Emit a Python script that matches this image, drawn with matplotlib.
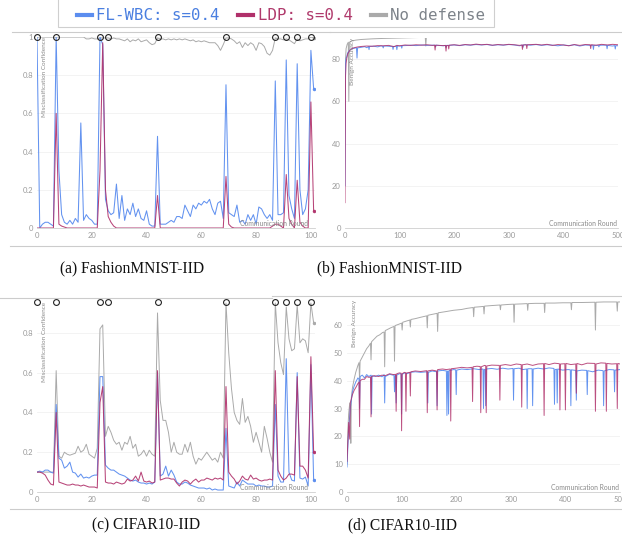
import matplotlib
matplotlib.use("Agg")
import matplotlib.pyplot as plt
from matplotlib.lines import Line2D
from matplotlib.patches import Rectangle

# ---- data ----
rounds_a = list(range(102))
attack_rounds = [0, 7, 23, 26, 44, 69, 87, 91, 95, 100]

fmnist_wbc = [1.0, 0.0, 0.02, 0.03, 0.03, 0.02, 0.01, 1.0, 0.3, 0.07,
              0.03, 0.02, 0.04, 0.02, 0.05, 0.03, 0.55, 0.04, 0.07, 0.05,
              0.04, 0.02, 0.02, 1.0, 0.96, 0.15, 0.09, 0.07, 0.08, 0.23,
              0.05, 0.17, 0.04, 0.1, 0.07, 0.13, 0.06, 0.1, 0.05, 0.04,
              0.09, 0.02, 0.01, 0.01, 0.48, 0.02, 0.02, 0.02, 0.03, 0.04,
              0.03, 0.06, 0.06, 0.05, 0.12, 0.09, 0.06, 0.12, 0.1, 0.13,
              0.12, 0.14, 0.13, 0.15, 0.1, 0.07, 0.13, 0.14, 0.05, 0.75,
              0.08, 0.07, 0.06, 0.12, 0.03, 0.04, 0.02, 0.07, 0.04, 0.07,
              0.02, 0.11, 0.1, 0.07, 0.05, 0.07, 0.04, 0.77, 0.07, 0.07,
              0.08, 0.88, 0.17, 0.1, 0.05, 0.86, 0.2, 0.07, 0.1, 0.2,
              0.93, 0.73]
fmnist_ldp = [0.0, 0.0, 0.0, 0.0, 0.0, 0.0, 0.0, 0.6, 0.02, 0.01,
              0.005, 0.0, 0.0, 0.0, 0.0, 0.0, 0.0, 0.0, 0.0, 0.0,
              0.0, 0.0, 0.0, 0.3, 0.97, 0.2, 0.06, 0.03, 0.01, 0.0,
              0.0, 0.0, 0.0, 0.0, 0.0, 0.0, 0.0, 0.0, 0.0, 0.0,
              0.0, 0.0, 0.0, 0.0, 0.17, 0.0, 0.0, 0.0, 0.0, 0.0,
              0.0, 0.0, 0.0, 0.0, 0.0, 0.0, 0.0, 0.0, 0.0, 0.0,
              0.0, 0.0, 0.0, 0.0, 0.0, 0.0, 0.0, 0.0, 0.0, 0.27,
              0.02, 0.005, 0.0, 0.0, 0.0, 0.0, 0.0, 0.0, 0.0, 0.0,
              0.0, 0.0, 0.0, 0.0, 0.0, 0.0, 0.01, 0.02, 0.02, 0.01,
              0.0, 0.28, 0.05, 0.02, 0.0, 0.25, 0.03, 0.01, 0.0, 0.0,
              0.66, 0.09]
fmnist_none = [1.0, 1.0, 1.0, 1.0, 1.0, 1.0, 1.0, 1.0, 1.0, 1.0,
               1.0, 1.0, 1.0, 1.0, 1.0, 1.0, 1.0, 1.0, 0.99, 0.99,
               0.995, 0.99, 0.99, 0.995, 0.995, 0.995, 0.995, 0.99, 0.995, 0.99,
               0.99, 0.985, 0.98, 0.99, 0.975, 0.985, 0.98, 0.99, 0.975, 0.98,
               0.985, 0.97, 0.96, 0.965, 0.995, 0.99, 0.99, 0.985, 0.99, 0.985,
               0.99, 0.985, 0.99, 0.985, 0.99, 0.985, 0.98, 0.985, 0.975, 0.98,
               0.975, 0.98, 0.975, 0.97, 0.97, 0.97, 0.955, 0.93, 0.96, 0.995,
               0.995, 0.99, 0.98, 0.965, 0.975, 0.945, 0.97, 0.955, 0.97, 0.96,
               0.93, 0.97, 0.965, 0.95, 0.915, 0.905, 0.93, 0.995, 0.99, 0.99,
               0.985, 0.99, 0.985, 0.975, 0.965, 0.99, 0.98, 0.985, 0.99, 0.99,
               1.0, 0.995]

cifar_wbc = [0.1, 0.105, 0.1, 0.11, 0.11, 0.1, 0.095, 0.44, 0.17, 0.16,
             0.12, 0.13, 0.15, 0.1, 0.095, 0.075, 0.09, 0.07, 0.075, 0.07,
             0.08, 0.085, 0.085, 0.58, 0.58, 0.135, 0.12, 0.11, 0.11, 0.1,
             0.09, 0.085, 0.08, 0.07, 0.06, 0.055, 0.06, 0.05, 0.045, 0.045,
             0.04, 0.045, 0.04, 0.05, 0.6, 0.08, 0.09, 0.13, 0.08, 0.11,
             0.085, 0.05, 0.04, 0.04, 0.05, 0.045, 0.035, 0.03, 0.025, 0.02,
             0.02, 0.02, 0.015, 0.02, 0.01, 0.015, 0.01, 0.01, 0.01, 0.32,
             0.03, 0.025, 0.02, 0.05, 0.03, 0.06, 0.05, 0.04, 0.04, 0.04,
             0.03, 0.035, 0.03, 0.03, 0.025, 0.025, 0.03, 0.44, 0.08, 0.05,
             0.05, 0.67, 0.1, 0.06, 0.055, 0.6, 0.07, 0.065, 0.075, 0.03,
             0.64, 0.06]
cifar_ldp = [0.1, 0.1, 0.095, 0.085, 0.06, 0.04, 0.035, 0.4, 0.05, 0.045,
             0.04, 0.035, 0.035, 0.04, 0.035, 0.035, 0.03, 0.035, 0.03, 0.025,
             0.025, 0.025, 0.02, 0.45, 0.53, 0.05, 0.045, 0.045, 0.04, 0.05,
             0.045, 0.04, 0.045, 0.065, 0.055, 0.06, 0.08, 0.055, 0.1, 0.055,
             0.05, 0.055, 0.045, 0.05, 0.61, 0.06, 0.065, 0.07, 0.07, 0.065,
             0.065, 0.045, 0.03, 0.05, 0.06, 0.055, 0.04, 0.055, 0.065, 0.05,
             0.06, 0.06, 0.07, 0.065, 0.06, 0.07, 0.065, 0.07, 0.06, 0.53,
             0.1, 0.08, 0.065, 0.04, 0.055, 0.08, 0.065, 0.06, 0.085, 0.065,
             0.07, 0.06, 0.055, 0.06, 0.06, 0.065, 0.06, 0.61, 0.11, 0.08,
             0.06, 0.07, 0.09, 0.09, 0.085, 0.58, 0.13, 0.13, 0.11, 0.07,
             0.68, 0.2]
cifar_none = [0.1, 0.1, 0.1, 0.1, 0.1, 0.1, 0.1, 0.61, 0.18, 0.17,
              0.2, 0.19, 0.185, 0.19, 0.195, 0.23, 0.2, 0.21, 0.24, 0.19,
              0.18, 0.17, 0.22, 0.82, 0.84, 0.28, 0.33, 0.3, 0.26, 0.24,
              0.25, 0.21, 0.25, 0.24, 0.28, 0.22, 0.24, 0.18, 0.19, 0.21,
              0.18, 0.21, 0.19, 0.18, 0.9, 0.46, 0.36, 0.36, 0.3, 0.2,
              0.25, 0.2, 0.19, 0.19, 0.24, 0.2, 0.25, 0.18, 0.14, 0.17,
              0.16, 0.18, 0.2, 0.18, 0.16, 0.17, 0.15, 0.2, 0.17, 0.95,
              0.7, 0.52, 0.4, 0.36, 0.34, 0.47, 0.35, 0.38, 0.33, 0.25,
              0.3, 0.25, 0.2, 0.33, 0.27, 0.2, 0.15, 0.95, 0.75, 0.65,
              0.59, 0.93, 0.77, 0.71, 0.72, 0.94, 0.75, 0.77, 0.76, 0.7,
              0.95, 0.85]

# benign accuracy, (round, value)
acc_fm_wbc = [(0, 20), (1, 78), (2, 80.5), (3, 81), (5, 83), (8, 84), (10, 84.5), (14, 85),
              (18, 85.2), (21, 85.4), (22, 80.5), (23, 85.3), (30, 85.6), (36, 85.9), (40, 85.4),
              (43, 86), (44, 84.5), (45, 86), (52, 86.1), (60, 85.8), (66, 86.3), (69, 86.1),
              (70, 85.3), (71, 86.2), (75, 86.2), (84, 86), (87, 86), (88, 84.6), (89, 86),
              (94, 86.1), (95, 84.5), (96, 86.2), (100, 86.2), (103, 86.3), (104, 85.2),
              (105, 86.4), (110, 86.4), (120, 86.6), (130, 86.4), (140, 86.7), (150, 86.5),
              (160, 86.6), (165, 86.6), (166, 85.8), (167, 86.6), (180, 86.3), (184, 86.5),
              (185, 85.5), (186, 86.5), (190, 86.5), (200, 86.7), (210, 86.4), (220, 86.8),
              (230, 86.6), (240, 86.9), (250, 86.7), (260, 86.9), (270, 86.5), (280, 86.8),
              (290, 86.6), (300, 86.9), (310, 86.7), (320, 86.3), (325, 86.7), (326, 85.6),
              (327, 86.7), (330, 86.8), (340, 86.6), (350, 86.9), (360, 86.5), (370, 86.8),
              (380, 86.6), (390, 86.3), (400, 86.7), (410, 86.4), (420, 86.8), (430, 86.2),
              (440, 86.7), (450, 86.5), (454, 86.6), (455, 84.6), (456, 86.5), (464, 86.5),
              (465, 85.8), (466, 86.5), (470, 86.6), (479, 86.6), (480, 84.9), (481, 86.5),
              (490, 86.2), (494, 86.4), (495, 84.8), (496, 86.4), (500, 86.3)]
acc_fm_ldp = [(0, 12), (1, 72), (2, 78), (3, 80), (5, 82.5), (8, 83.8), (10, 84.5), (14, 85.2),
              (20, 85.6), (24, 85.8), (30, 86), (40, 86.2), (50, 86.1), (60, 86.4), (70, 86.3),
              (80, 86.5), (90, 85.9), (95, 86.5), (100, 86.3), (110, 86.7), (120, 86.5),
              (130, 86.8), (140, 86.6), (150, 86.8), (160, 86.5), (164, 86.6), (165, 84.3),
              (166, 86.6), (180, 86.4), (184, 86.5), (185, 83.8), (186, 86.4), (189, 86.5),
              (190, 84.8), (191, 86.6), (200, 86.8), (210, 86.5), (220, 86.9), (230, 86.7),
              (240, 87.1), (250, 86.8), (260, 87), (270, 86.6), (280, 86.9), (290, 86.7),
              (300, 87), (310, 86.8), (320, 86.5), (324, 86.7), (325, 84.6), (326, 86.7),
              (332, 86.8), (333, 85), (334, 86.8), (350, 87), (360, 86.7), (370, 87),
              (380, 86.5), (390, 86.9), (400, 86.7), (410, 86.3), (420, 86.9), (430, 86.5),
              (440, 86.9), (449, 86.8), (450, 85), (451, 86.8), (460, 86.6), (470, 87),
              (480, 86.7), (490, 87), (500, 86.8)]
acc_fm_none = [(0, 75), (2, 85), (4, 87), (6, 88), (7, 60), (8, 88), (12, 88.6), (20, 89),
               (30, 89.3), (50, 89.6), (70, 89.8), (100, 90), (130, 90.2), (147, 90.3),
               (148, 86.2), (149, 90.5), (180, 90.5), (220, 90.6), (260, 90.7), (300, 90.7),
               (350, 90.7), (400, 90.6), (450, 90.5), (500, 90.3)]

acc_cf_wbc = [(0, 9), (2, 18), (4, 25), (6, 30), (8, 33), (10, 36), (13, 38), (16, 39.5), (20, 41),
              (22, 40.5), (23, 30), (24, 41.5), (28, 42), (32, 41), (36, 42.2), (40, 41.5), (44, 42),
              (45, 28), (46, 41.8), (52, 41.5), (58, 42), (64, 41.4), (68, 42.2), (69, 32), (70, 41.5),
              (78, 42.3), (84, 42), (86, 42.1), (87, 36), (88, 41.8), (89, 42), (90, 32), (91, 42),
              (96, 42.5), (99, 42.5), (100, 28), (101, 42.3), (106, 42.8), (110, 42.5), (116, 43),
              (125, 43.2), (135, 43), (147, 43.2), (148, 32), (149, 43), (156, 43.5), (164, 43.2),
              (165, 31), (166, 43.5), (175, 43.7), (182, 43.5), (183, 27.5), (184, 43.4), (185, 43.5),
              (186, 28), (187, 43.6), (195, 44), (199, 43.9), (200, 35), (201, 43.8), (210, 44.2),
              (220, 44), (232, 44.3), (242, 44), (249, 44.2), (250, 30), (251, 44), (253, 44.1),
              (254, 31), (255, 44.2), (265, 44.4), (275, 44.1), (285, 44.5), (295, 44.2), (304, 44.4),
              (305, 33), (306, 44.3), (315, 44.5), (322, 44), (329, 44.2), (330, 30), (331, 44.3),
              (339, 44.3), (340, 31), (341, 44.2), (350, 44.5), (360, 44.2), (370, 44.6), (379, 44.4),
              (380, 31.5), (381, 44), (384, 44.1), (385, 32), (386, 44.2), (395, 43.8), (405, 44),
              (409, 43.9), (410, 31), (411, 43.9), (419, 43.7), (420, 33), (421, 43.5), (430, 43.8),
              (439, 43.7), (440, 35), (441, 43.6), (450, 43.2), (460, 43.8), (469, 43.6), (470, 31),
              (471, 43.5), (480, 44), (489, 43.9), (490, 36), (491, 43.8), (500, 44)]
acc_cf_ldp = [(0, 11), (2, 20), (3, 25), (5, 19), (6, 32), (8, 33.5), (10, 35), (13, 36.5), (16, 37.5),
              (20, 39), (22, 39.5), (23, 23.5), (24, 40), (28, 40.5), (32, 40.5), (36, 41.5), (40, 41.2),
              (43, 41.3), (44, 27), (45, 41.5), (50, 41.8), (58, 41.5), (64, 42), (70, 41.8), (78, 42.5),
              (85, 42.2), (89, 42.3), (90, 29), (91, 42.5), (96, 42.8), (99, 42.7), (100, 22), (101, 42.5),
              (105, 43), (107, 42.9), (108, 29), (109, 42.8), (115, 43), (116, 34.5), (117, 43.2),
              (125, 43.5), (135, 43.3), (146, 43.6), (147, 28.5), (148, 43.5), (156, 43.8), (164, 43.5),
              (165, 29.5), (166, 44), (175, 44.2), (182, 44), (189, 44.2), (190, 25.5), (191, 44.3),
              (200, 44.5), (210, 44.8), (220, 44.6), (229, 44.8), (230, 32.5), (231, 45), (238, 45.2),
              (244, 45.1), (245, 28.5), (246, 45), (252, 45.5), (254, 45.4), (255, 28.5), (256, 45.3),
              (265, 45.6), (279, 45.5), (280, 33), (281, 45.5), (290, 45.8), (300, 45.5), (310, 46),
              (319, 45.8), (320, 30.5), (321, 45.7), (330, 46), (340, 45.5), (350, 46), (360, 46.1),
              (361, 27.5), (362, 46.2), (370, 45.8), (380, 46.3), (389, 46.1), (390, 29.5), (391, 46),
              (399, 46.1), (400, 29.5), (401, 46.2), (410, 45.8), (419, 46), (420, 35.5), (421, 46.2),
              (430, 45.7), (440, 46.3), (454, 46.2), (455, 29), (456, 46), (465, 46.4), (474, 46.3),
              (475, 29), (476, 46.2), (485, 46), (494, 46.1), (495, 30), (496, 46.2), (500, 46)]
acc_cf_none = [(0, 10), (1, 18), (2, 24), (3, 28), (5, 32), (6, 30), (7, 17.5), (8, 34), (10, 37.5),
               (13, 40.5), (16, 43), (20, 45.5), (22, 46.5), (23, 40), (24, 47), (28, 48.5), (32, 50),
               (36, 51.5), (40, 52.5), (43, 53.5), (44, 47.5), (45, 54), (50, 55), (55, 56), (60, 56.5),
               (65, 57.3), (68, 57.5), (69, 45), (70, 58), (75, 58.5), (80, 59), (86, 59.5), (87, 47),
               (88, 59.8), (95, 60.3), (100, 60.7), (101, 58.2), (102, 61), (110, 61.5), (115, 61.8),
               (116, 59.3), (117, 62), (125, 62.3), (135, 62.8), (146, 63.3), (147, 59), (148, 63.5),
               (155, 63.8), (165, 64.2), (166, 57.7), (167, 64.4), (180, 64.8), (195, 65.3),
               (210, 65.6), (220, 66), (231, 66.3), (232, 63), (233, 66.4), (245, 66.6), (250, 66.7),
               (251, 64), (252, 66.8), (265, 67), (280, 67.2), (281, 65.5), (282, 67.2), (295, 67.4),
               (305, 67.5), (306, 61), (307, 67.5), (320, 67.6), (330, 67.7), (331, 65.3), (332, 67.7),
               (345, 67.8), (361, 67.8), (362, 64.5), (363, 67.9), (380, 67.9), (395, 68), (410, 68),
               (411, 65.5), (412, 68.1), (430, 68.1), (454, 68.2), (455, 58.2), (456, 68.2),
               (470, 68.3), (485, 68.3), (494, 68.3), (495, 65), (496, 68.3), (500, 68.3)]

labels = ["FL-WBC: s=0.4", "LDP: s=0.4", "No defense"]
captions = ["(a) FashionMNIST-IID", "(b) FashionMNIST-IID", "(c) CIFAR10-IID", "(d) CIFAR10-IID"]

# ---- style ----
c_wbc = "#5b8def"
c_ldp = "#b0306a"
c_none = "#aaaaaa"
tick_col = "#9a9a9a"
W, H = 622, 544

fig = plt.figure(figsize=(W / 100, H / 100), dpi=100)


def rect(left, top, right, bottom):
    return [left / W, 1 - bottom / H, (right - left) / W, (bottom - top) / H]


def style_axes(ax, ylabel, xlabel_x):
    for s in ["top", "right", "left"]:
        ax.spines[s].set_visible(False)
    ax.spines["bottom"].set_color("#cfcfcf")
    ax.spines["bottom"].set_linewidth(0.6)
    ax.tick_params(length=0, labelsize=5.5, labelcolor=tick_col, pad=3)
    for lab in ax.get_xticklabels() + ax.get_yticklabels():
        lab.set_family("Lato")
    ax.grid(axis="y", color="#f1f1f1", linewidth=0.6)
    ax.set_axisbelow(True)
    ax.text(0.018, 1.0, ylabel, rotation=90, transform=ax.transAxes, ha="left", va="top",
            fontsize=4.6, color="#8a8a8a", family="Lato")
    ax.text(xlabel_x, 0.004, "Communication Round", transform=ax.transAxes, ha="right", va="bottom",
            fontsize=4.9, color="#8a8a8a", family="Lato")


def conf_panel(wbc, ldp, none, top, bottom, ymax, yticks):
    ax = fig.add_axes(rect(37, top, 315, bottom))
    ax.plot(rounds_a, none, color=c_none, lw=0.7, marker="o", markersize=1.5, markevery=[-1])
    ax.plot(rounds_a, wbc, color=c_wbc, lw=0.75, alpha=0.95, marker="o", markersize=1.5, markevery=[-1])
    ax.plot(rounds_a, ldp, color=c_ldp, lw=0.75, alpha=0.9, marker="o", markersize=1.5, markevery=[-1])
    ax.plot(attack_rounds, [ymax] * len(attack_rounds), linestyle="none", marker="o", markersize=4.2,
            markerfacecolor="none", markeredgecolor="#222222", markeredgewidth=0.8, clip_on=False, zorder=5)
    ax.set_xlim(0, 101.5)
    ax.set_ylim(0, ymax)
    ax.set_xticks([0, 20, 40, 60, 80, 100])
    ax.set_yticks(yticks)
    ax.set_yticklabels([("%g" % v) for v in yticks])
    style_axes(ax, "Misclassification Confidence", 0.975)
    return ax


def acc_panel(wbc, ldp, none, left, top, right, bottom, ymax, yticks):
    ax = fig.add_axes(rect(left, top, right, bottom))
    for series, col, a in [(none, c_none, 1.0), (wbc, c_wbc, 0.95), (ldp, c_ldp, 0.85)]:
        xs = [p[0] for p in series]
        ys = [p[1] for p in series]
        ax.plot(xs, ys, color=col, lw=0.7, alpha=a)
    ax.set_xlim(0, 500)
    ax.set_ylim(0, ymax)
    ax.set_xticks([0, 100, 200, 300, 400, 500])
    ax.set_yticks(yticks)
    style_axes(ax, "Benign Accuracy", 0.995)
    return ax


conf_panel(fmnist_wbc, fmnist_ldp, fmnist_none, 37, 228, 1.0, [0, 0.2, 0.4, 0.6, 0.8, 1.0])
acc_panel(acc_fm_wbc, acc_fm_ldp, acc_fm_none, 345, 38, 618, 228, 90, [0, 20, 40, 60, 80])
conf_panel(cifar_wbc, cifar_ldp, cifar_none, 302, 492, 0.955, [0, 0.2, 0.4, 0.6, 0.8])
acc_panel(acc_cf_wbc, acc_cf_ldp, acc_cf_none, 347, 300, 620, 492, 69, [0, 10, 20, 30, 40, 50, 60])

# captions
for (cx, cy), txt in zip([(132, 268), (390, 268), (146, 525), (402, 525)], captions):
    fig.text(cx / W, 1 - cy / H, txt, ha="center", va="center", fontsize=11.2,
             family="Liberation Serif", color="#111111")

# separator lines of the page
for x0, x1, y in [(12, 330, 32), (330, 622, 32), (10, 622, 246), (0, 272, 298), (272, 622, 296),
                  (10, 622, 509)]:
    fig.add_artist(Line2D([x0 / W, x1 / W], [1 - y / H, 1 - y / H], color="#cccccc", lw=0.8))

# legend (box drawn separately, top edge runs off the page)
fig.add_artist(Rectangle((58 / W, 1 - 27 / H), (494 - 58) / W, 30 / H, transform=fig.transFigure,
                         facecolor="white", edgecolor="#cfcfcf", lw=0.8))
handles = [Line2D([], [], color=c, lw=3) for c in (c_wbc, c_ldp, c_none)]
leg = fig.legend(handles, labels, loc="center", bbox_to_anchor=(281 / W, 1 - 16 / H), ncol=3,
                 prop={"family": "DejaVu Sans Mono", "size": 11.3}, handlelength=0.95,
                 handletextpad=0.3, columnspacing=1.15, frameon=False, borderpad=0, borderaxespad=0)
for t, c in zip(leg.get_texts(), ["#4a7fe0", "#b03a6c", "#7d838a"]):
    t.set_color(c)

fig.savefig("out.png", dpi=100)
